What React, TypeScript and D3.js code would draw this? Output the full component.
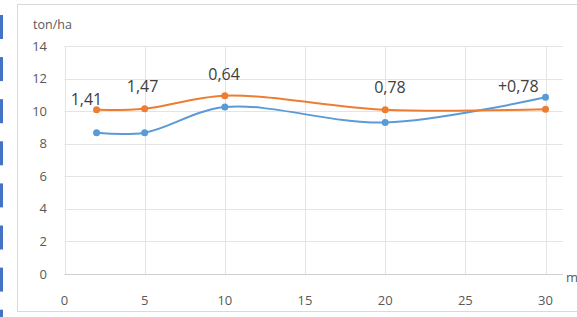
import React from "react";
import * as d3 from "d3";

const xValues = [2, 5, 10, 20, 30];
const seriesOrange = [10.08, 10.15, 10.95, 10.08, 10.12];
const seriesBlue = [8.67, 8.68, 10.25, 9.3, 10.85];
const diffLabels = ["1,41", "1,47", "0,64", "0,78", "+0,78"];
const labelX = [1.37, 4.87, 9.95, 20.3, 28.3];
const labelY = [10.37, 11.17, 11.91, 11.11, 11.17];
const xTicks = [0, 5, 10, 15, 20, 25, 30];
const yTicks = [0, 2, 4, 6, 8, 10, 12, 14];
const yTitle = "ton/ha";
const xTitle = "m";

const W = 577;
const H = 317;

export default function App() {
  const x = d3.scaleLinear().domain([0, 30]).range([64.5, 545.5]);
  const y = d3.scaleLinear().domain([0, 14]).range([274, 46]);
  const plotRight = 563;

  const line = d3
    .line<number>()
    .x((_, i) => x(xValues[i]))
    .y((d) => y(d))
    .curve(d3.curveCatmullRom.alpha(0.5));

  const bars = d3.range(0, 8).map((i) => 15 + i * 42.1);

  return (
    <svg
      width={W}
      height={H}
      style={{ position: "absolute", left: 0, top: 0, background: "#fff" }}
      fontFamily="'Open Sans', 'Noto Sans', sans-serif"
    >
      <rect x={0} y={0} width={W} height={H} fill="#fff" />
      {bars.map((b, i) => (
        <rect key={i} x={0} y={b} width={3} height={24} fill="#4472C4" />
      ))}
      <rect x={17.5} y={4.5} width={W} height={307} fill="#fff" stroke="#d9d9d9" />
      {yTicks.map((t) => (
        <line
          key={"h" + t}
          x1={x(0)}
          x2={plotRight}
          y1={Math.round(y(t)) + 0.5}
          y2={Math.round(y(t)) + 0.5}
          stroke={t === 0 ? "#d0d0d0" : "#e4e4e4"}
          strokeWidth={1}
        />
      ))}
      {xTicks.map((t) => (
        <line
          key={"v" + t}
          x1={Math.round(x(t)) + 0.5}
          x2={Math.round(x(t)) + 0.5}
          y1={y(14)}
          y2={y(0)}
          stroke="#e4e4e4"
        />
      ))}
      {yTicks.map((t) => (
        <text
          key={"yl" + t}
          x={47}
          y={y(t)}
          dy="0.35em"
          textAnchor="end"
          fontSize={13}
          fill="#595959"
        >
          {t}
        </text>
      ))}
      {xTicks.map((t) => (
        <text
          key={"xl" + t}
          x={x(t)}
          y={300}
          dy="0.35em"
          textAnchor="middle"
          fontSize={13}
          fill="#595959"
        >
          {t}
        </text>
      ))}
      <text x={33} y={25} dy="0.35em" fontSize={12.5} fill="#595959">
        {yTitle}
      </text>
      <text x={566} y={277} dy="0.35em" fontSize={13} fill="#595959">
        {xTitle}
      </text>
      <path d={line(seriesBlue) || ""} fill="none" stroke="#5B9BD5" strokeWidth={2} />
      <path d={line(seriesOrange) || ""} fill="none" stroke="#ED7D31" strokeWidth={2} />
      {seriesBlue.map((v, i) => (
        <circle key={"b" + i} cx={x(xValues[i])} cy={y(v)} r={3.5} fill="#5B9BD5" />
      ))}
      {seriesOrange.map((v, i) => (
        <circle key={"o" + i} cx={x(xValues[i])} cy={y(v)} r={3.5} fill="#ED7D31" />
      ))}
      {diffLabels.map((t, i) => (
        <text
          key={"lab" + i}
          x={x(labelX[i])}
          y={y(labelY[i])}
          textAnchor="middle"
          fontSize={16}
          fill="#404040"
        >
          {t}
        </text>
      ))}
    </svg>
  );
}
